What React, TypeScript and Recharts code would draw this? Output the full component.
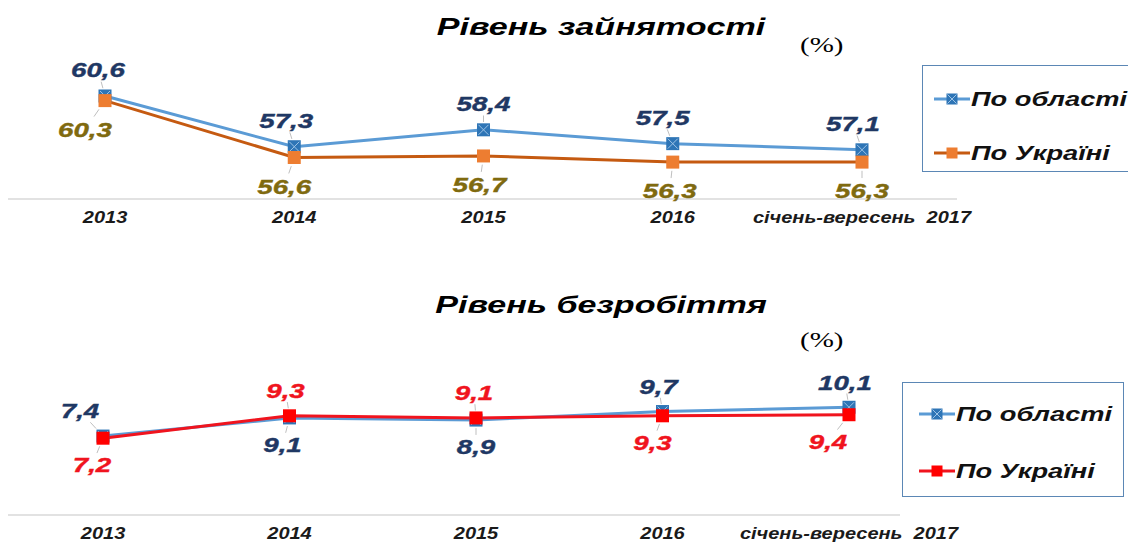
import React from 'react'
import { LineChart, Line, XAxis, YAxis, Legend, LabelList } from 'recharts'

// categories shared by both charts
const periods = ['2013', '2014', '2015', '2016', 'січень-вересень  2017']

// Рівень зайнятості, %
const employmentRegion = [60.6, 57.3, 58.4, 57.5, 57.1]
const employmentUkraine = [60.3, 56.6, 56.7, 56.3, 56.3]

// Рівень безробіття, %
const unemploymentRegion = [7.4, 9.1, 8.9, 9.7, 10.1]
const unemploymentUkraine = [7.2, 9.3, 9.1, 9.3, 9.4]

const seriesNames = ['По області', 'По Україні']

const employment = periods.map((p, i) => ({
  period: p,
  region: employmentRegion[i],
  ukraine: employmentUkraine[i]
}))

const unemployment = periods.map((p, i) => ({
  period: p,
  region: unemploymentRegion[i],
  ukraine: unemploymentUkraine[i]
}))

// small horizontal nudges for the value labels
const topRegionDx = [-7, -8, 0, -10, -9]
const topUkraineDx = [-20, -10, -4, -3, 0]
const botRegionDx = [-23, -7, 0, -4, -4]
const botUkraineDx = [-11, -4, -2, -10, -21]

const FONT = '"Liberation Sans", Arial, sans-serif'
const BLUE_LINE = '#5B9BD5'
const BLUE_MARK = '#2E75B6'
const ORANGE_LINE = '#C55A11'
const ORANGE_MARK = '#ED7D31'
const RED = '#F0141E'
const NAVY = '#1F3864'
const OLIVE = '#7F6A0F'

const fmt = (v: number) => v.toFixed(1).replace('.', ',')

const squareDot = (fill: string, cross?: string) => (props: any) => {
  const { cx, cy, index } = props
  if (cx == null || cy == null) return <g key={`dot-${index}`} />
  return (
    <g key={`dot-${index}`}>
      <rect x={cx - 6.5} y={cy - 6.5} width={13} height={13} fill={fill} />
      {cross && (
        <path
          d={`M${cx - 5},${cy - 5}L${cx + 5},${cy + 5}M${cx + 5},${cy - 5}L${cx - 5},${cy + 5}`}
          stroke={cross}
          strokeWidth={1}
        />
      )}
    </g>
  )
}

// higher of the two values gets its label above the point
const valueLabel =
  (own: number[], other: number[], color: string, dxs: number[], up: number, down: number) =>
  (props: any) => {
    const index = props.index
    const vb = props.viewBox || {}
    const x = vb.x ?? props.x
    const y = vb.y ?? props.y
    if (x == null || y == null) return null
    const v = own[index]
    const above = v >= other[index]
    const dx = dxs[index]
    const dy = above ? up : down
    return (
      <g key={`lbl-${index}`}>
        <line
          x1={x + dx * 0.3}
          y1={y + dy * 0.3}
          x2={x + dx * 0.55}
          y2={y + dy * 0.55}
          stroke="#BFBFBF"
          strokeWidth={1}
        />
        <text
          transform={`translate(${x + dx},${y + dy}) scale(1.32,1)`}
          textAnchor="middle"
          dominantBaseline="central"
          fontFamily={FONT}
          fontSize={21}
          fontWeight="bold"
          fontStyle="italic"
          fill={color}
          stroke={color}
          strokeWidth={0.4}
        >
          {fmt(v)}
        </text>
      </g>
    )
  }

const renderTick = (props: any) => {
  const { x, y, payload } = props
  return (
    <text
      transform={`translate(${x},${y + 24}) scale(1.25,1)`}
      textAnchor="middle"
      fontFamily={FONT}
      fontSize={16}
      fontWeight="bold"
      fontStyle="italic"
      fill="#1A1A1A"
      style={{ whiteSpace: 'pre' }}
    >
      {payload.value}
    </text>
  )
}

const legendBox =
  (colors: { line: string; mark: string; cross?: string }[], iconLeft: number, textLeft: number, rows: number[]) =>
  () => (
    <div
      style={{
        position: 'relative',
        width: '100%',
        height: '100%',
        boxSizing: 'border-box',
        border: '1.5px solid #5B87B5',
        background: '#fff'
      }}
    >
      {seriesNames.map((name, i) => (
        <div key={name}>
          <svg
            width={36}
            height={14}
            style={{ position: 'absolute', left: iconLeft, top: rows[i] - 7 }}
          >
            <line x1={0} y1={7} x2={36} y2={7} stroke={colors[i].line} strokeWidth={3} />
            <rect x={12.5} y={1.5} width={11} height={11} fill={colors[i].mark} />
            {colors[i].cross && (
              <path d="M13.5,2.5L22.5,11.5M22.5,2.5L13.5,11.5" stroke={colors[i].cross} strokeWidth={1} />
            )}
          </svg>
          <span
            style={{
              position: 'absolute',
              left: textLeft,
              top: rows[i] - 12,
              lineHeight: '24px',
              fontFamily: FONT,
              fontSize: 20.5,
              fontWeight: 'bold',
              fontStyle: 'italic',
              color: '#111',
              whiteSpace: 'nowrap',
              transform: 'scaleX(1.33)',
              transformOrigin: 'left center'
            }}
          >
            {name}
          </span>
        </div>
      ))}
    </div>
  )

const titleStyle = (left: number, top: number): React.CSSProperties => ({
  position: 'absolute',
  left,
  top,
  transform: 'translateX(-50%) scaleX(1.42)',
  fontFamily: FONT,
  fontSize: 24,
  fontWeight: 'bold',
  fontStyle: 'italic',
  lineHeight: '28px',
  whiteSpace: 'nowrap',
  color: '#000'
})

const unitStyle = (left: number, top: number): React.CSSProperties => ({
  position: 'absolute',
  left,
  top,
  transform: 'scaleX(1.45)',
  transformOrigin: 'left center',
  fontFamily: '"Liberation Serif", "Times New Roman", serif',
  fontSize: 20,
  lineHeight: '24px',
  color: '#000'
})

export default function App() {
  return (
    <div
      style={{
        position: 'absolute',
        left: 0,
        top: 0,
        width: 1128,
        height: 542,
        overflow: 'hidden',
        background: '#fff'
      }}
    >
      <div style={titleStyle(601, 13)}>Рівень зайнятості</div>
      <div style={unitStyle(800, 33)}>(%)</div>
      <div style={titleStyle(601, 291)}>Рівень безробіття</div>
      <div style={unitStyle(800, 328)}>(%)</div>

      <div style={{ position: 'absolute', left: 0, top: 0 }}>
        <LineChart
          width={1128}
          height={240}
          data={employment}
          margin={{ top: 76, right: 171, left: 8, bottom: 0 }}
        >
          <XAxis
            dataKey="period"
            interval={0}
            padding={{ left: 97, right: 95 }}
            axisLine={{ stroke: '#D9D9D9', strokeWidth: 1.5 }}
            tickLine={false}
            tickSize={0}
            tickMargin={0}
            height={41}
            tick={renderTick}
          />
          <YAxis hide domain={[53.9, 61.9]} />
          <Legend
            layout="vertical"
            align="center"
            verticalAlign="middle"
            wrapperStyle={{ left: 922, top: 65, width: 210, height: 107 }}
            content={legendBox(
              [
                { line: BLUE_LINE, mark: BLUE_MARK, cross: '#9DC3E6' },
                { line: ORANGE_LINE, mark: ORANGE_MARK }
              ],
              11,
              48,
              [33, 87]
            )}
          />
          <Line
            dataKey="region"
            name={seriesNames[0]}
            stroke={BLUE_LINE}
            strokeWidth={3}
            dot={squareDot(BLUE_MARK, '#9DC3E6')}
            isAnimationActive={false}
          >
            <LabelList
              dataKey="region"
              content={valueLabel(employmentRegion, employmentUkraine, NAVY, topRegionDx, -26, 29)}
            />
          </Line>
          <Line
            dataKey="ukraine"
            name={seriesNames[1]}
            stroke={ORANGE_LINE}
            strokeWidth={3}
            dot={squareDot(ORANGE_MARK)}
            isAnimationActive={false}
          >
            <LabelList
              dataKey="ukraine"
              content={valueLabel(employmentUkraine, employmentRegion, OLIVE, topUkraineDx, -26, 29)}
            />
          </Line>
        </LineChart>
      </div>

      <div style={{ position: 'absolute', left: 0, top: 260 }}>
        <LineChart
          width={1128}
          height={282}
          data={unemployment}
          margin={{ top: 127, right: 228, left: 8, bottom: 0 }}
        >
          <XAxis
            dataKey="period"
            interval={0}
            padding={{ left: 95, right: 51 }}
            axisLine={{ stroke: '#D9D9D9', strokeWidth: 1.5 }}
            tickLine={false}
            tickSize={0}
            tickMargin={0}
            height={27}
            tick={renderTick}
          />
          <YAxis hide domain={[0, 12]} />
          <Legend
            layout="vertical"
            align="center"
            verticalAlign="middle"
            wrapperStyle={{ left: 902, top: 122, width: 222, height: 115 }}
            content={legendBox(
              [
                { line: BLUE_LINE, mark: BLUE_MARK, cross: '#9DC3E6' },
                { line: RED, mark: '#FF0000' }
              ],
              16,
              53,
              [31, 88]
            )}
          />
          <Line
            dataKey="region"
            name={seriesNames[0]}
            stroke={BLUE_LINE}
            strokeWidth={3}
            dot={squareDot(BLUE_MARK, '#9DC3E6')}
            isAnimationActive={false}
          >
            <LabelList
              dataKey="region"
              content={valueLabel(unemploymentRegion, unemploymentUkraine, NAVY, botRegionDx, -25, 27)}
            />
          </Line>
          <Line
            dataKey="ukraine"
            name={seriesNames[1]}
            stroke={RED}
            strokeWidth={3}
            dot={squareDot('#FF0000')}
            isAnimationActive={false}
          >
            <LabelList
              dataKey="ukraine"
              content={valueLabel(unemploymentUkraine, unemploymentRegion, RED, botUkraineDx, -25, 27)}
            />
          </Line>
        </LineChart>
      </div>
    </div>
  )
}
